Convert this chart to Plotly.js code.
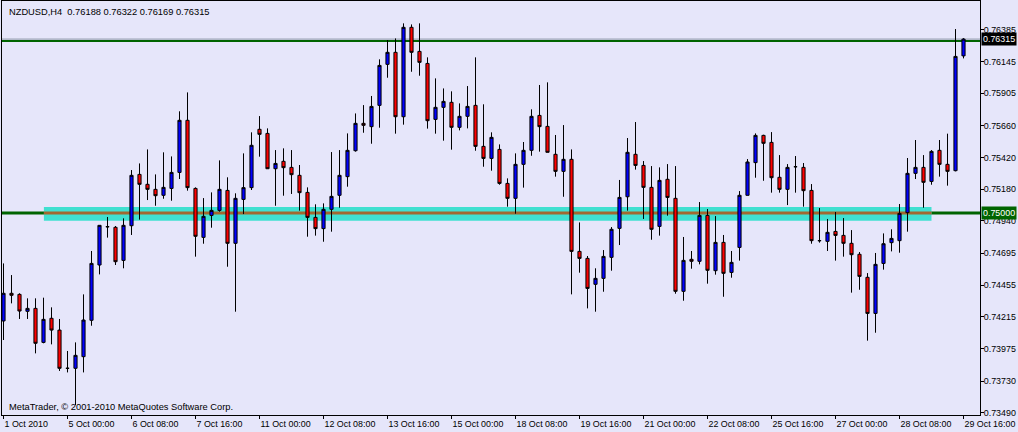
<!DOCTYPE html>
<html>
<head>
<meta charset="utf-8">
<script src="https://cdn.plot.ly/plotly-3.0.1.min.js"></script>
<style>
html,body{margin:0;padding:0;background:#E6E6FA;}
#chart{width:1018px;height:432px;}
</style>
</head>
<body>
<div id="chart"></div>
<script>
// NZDUSD H4 candles (1 Oct 2010 .. 29 Oct 16:00)
const barOpen = [0.74184,0.74393,0.74385,0.74257,0.74279,0.74022,0.74204,0.74115,0.73826,0.73826,
0.73914,0.74189,0.74607,0.74897,0.74892,0.74642,0.74904,0.75292,0.75217,0.75179,
0.75134,0.75186,0.75307,0.75701,0.75186,0.74816,0.74982,0.75020,0.75171,0.74771,
0.75103,0.75192,0.75633,0.75602,0.75335,0.75391,0.75345,0.75285,0.75156,0.74967,
0.74882,0.75028,0.75134,0.75275,0.75471,0.75678,0.75653,0.75814,0.76124,0.76215,
0.75728,0.76404,0.76222,0.76131,0.75708,0.75799,0.75837,0.75648,0.75731,0.75814,
0.75504,0.75413,0.75481,0.75224,0.75111,0.75368,0.75474,0.75738,0.75655,0.75444,
0.75315,0.75406,0.74710,0.74657,0.74461,0.74506,0.74665,0.74884,0.75123,0.75444,
0.75360,0.75194,0.74899,0.75255,0.75111,0.74408,0.74650,0.74635,0.74982,0.74564,
0.74778,0.74551,0.74740,0.75134,0.75381,0.75587,0.75534,0.75270,0.75179,0.75350,
0.75345,0.75171,0.74791,0.74786,0.74861,0.74831,0.74771,0.74688,0.74514,0.74241,
0.74619,0.74776,0.74791,0.75003,0.75300,0.75345,0.75239,0.75474,0.75368,0.75320,
0.76188];
const barHigh = [0.74619,0.74531,0.74393,0.74355,0.74355,0.74360,0.74287,0.74199,0.73957,0.74022,
0.74385,0.74713,0.74909,0.74970,0.74902,0.74960,0.75325,0.75375,0.75481,0.75292,
0.75459,0.75428,0.75769,0.75912,0.75194,0.75113,0.75156,0.75398,0.75270,0.75149,
0.75451,0.75610,0.75733,0.75640,0.75476,0.75489,0.75476,0.75363,0.75194,0.75066,
0.75073,0.75461,0.75476,0.75602,0.75753,0.75816,0.75885,0.76162,0.76308,0.76320,
0.76434,0.76426,0.76434,0.76177,0.76018,0.75942,0.75920,0.75829,0.75960,0.76177,
0.75822,0.75610,0.75519,0.75262,0.75451,0.75537,0.75784,0.75968,0.75988,0.75590,
0.75665,0.75481,0.74929,0.74675,0.74582,0.74720,0.74894,0.75250,0.75567,0.75688,
0.75393,0.75355,0.75345,0.75370,0.75355,0.74819,0.74713,0.75083,0.75030,0.74977,
0.74834,0.74713,0.75166,0.75408,0.75602,0.75592,0.75612,0.75438,0.75370,0.75431,
0.75378,0.75219,0.75038,0.74955,0.75008,0.74962,0.74871,0.74705,0.74546,0.74698,
0.74846,0.74877,0.75068,0.75416,0.75552,0.75438,0.75476,0.75552,0.75600,0.76391,
0.76322];
const barLow = [0.74040,0.74317,0.74199,0.74199,0.73939,0.74015,0.74007,0.73806,0.73795,0.73548,
0.73795,0.74148,0.74536,0.74814,0.74607,0.74582,0.74834,0.74950,0.75098,0.75055,
0.75108,0.75093,0.75257,0.75169,0.74670,0.74768,0.74889,0.75010,0.74594,0.74254,
0.74992,0.75174,0.75426,0.75333,0.75055,0.75131,0.75144,0.75018,0.74821,0.74829,
0.74783,0.74859,0.75040,0.75199,0.75464,0.75607,0.75524,0.75645,0.76023,0.75600,
0.75668,0.76068,0.76038,0.75638,0.75600,0.75547,0.75479,0.75625,0.75640,0.75471,
0.75350,0.75320,0.75214,0.75048,0.74995,0.75192,0.75433,0.75464,0.75459,0.75275,
0.75123,0.74385,0.74549,0.74279,0.74254,0.74405,0.74564,0.74758,0.75018,0.75328,
0.74955,0.74798,0.74829,0.74980,0.74390,0.74337,0.74579,0.74612,0.74466,0.74534,
0.74367,0.74511,0.74640,0.75134,0.75267,0.75244,0.75154,0.75154,0.75060,0.75154,
0.75048,0.74768,0.74776,0.74713,0.74640,0.74670,0.74398,0.74420,0.74035,0.74095,
0.74572,0.74710,0.74700,0.74859,0.75257,0.75040,0.75214,0.75275,0.75207,0.75315,
0.76169];
const barClose = [0.74393,0.74378,0.74259,0.74279,0.74015,0.74196,0.74115,0.73826,0.73826,0.73924,
0.74191,0.74619,0.74907,0.74896,0.74632,0.74907,0.75285,0.75217,0.75179,0.75131,
0.75194,0.75307,0.75701,0.75192,0.74824,0.74975,0.75020,0.75179,0.74771,0.75111,
0.75192,0.75512,0.75595,0.75335,0.75375,0.75343,0.75290,0.75154,0.74967,0.74882,
0.75028,0.75126,0.75285,0.75474,0.75678,0.75663,0.75806,0.76116,0.76215,0.75728,
0.76404,0.76215,0.76139,0.75698,0.75799,0.75844,0.75648,0.75731,0.75806,0.75504,
0.75413,0.75572,0.75224,0.75111,0.75368,0.75474,0.75731,0.75653,0.75459,0.75315,
0.75406,0.74710,0.74657,0.74430,0.74506,0.74672,0.74877,0.75118,0.75459,0.75360,
0.75194,0.74877,0.75247,0.75118,0.74408,0.74642,0.74635,0.74982,0.74567,0.74778,
0.74544,0.74627,0.75134,0.75386,0.75587,0.75527,0.75267,0.75179,0.75345,0.75350,
0.75169,0.74791,0.74791,0.74854,0.74831,0.74771,0.74685,0.74521,0.74241,0.74612,
0.74768,0.74808,0.74997,0.75300,0.75345,0.75232,0.75466,0.75368,0.75315,0.76184,
0.76315];

// time-axis labels and the bar index where each one sits
const timeTickBars = [0,8,16,24,32,40,48,56,64,72,80,88,96,104,112,120];
const timeTickLabels = ["1 Oct 2010","5 Oct 00:00","6 Oct 08:00","7 Oct 16:00","11 Oct 00:00",
"12 Oct 08:00","13 Oct 16:00","15 Oct 00:00","18 Oct 08:00","19 Oct 16:00","21 Oct 00:00",
"22 Oct 08:00","25 Oct 16:00","27 Oct 00:00","28 Oct 08:00","29 Oct 16:00"];

// price scale labels
const priceTicks = [0.76385,0.76145,0.75905,0.75660,0.75420,0.75180,0.74940,0.74695,0.74455,0.74215,0.73975,0.73730,0.73490];
const priceTickLabels = ["0.76385","0.76145","0.75905","0.75660","0.75420","0.75180","0.74940","0.74695","0.74455","0.74215","0.73975","0.73730","0.73490"];

// drawn objects
const bidPrice = 0.76315;
const resistanceLevel = 0.76300;
const supportLevel = 0.75000;
const zoneLow = 0.74942, zoneHigh = 0.75045;
const zoneStartBar = 5.05, zoneEndBar = 116;
const chartTitle = "NZDUSD,H4\u00a0\u00a00.76188 0.76322 0.76169 0.76315";
const copyright = "MetaTrader, \u00a9 2001-2010 MetaQuotes Software Corp.";

const barIndex = barOpen.map((_, i) => i);
const FAMILY = "Liberation Sans, Arial, sans-serif";
const FONT = {family: FAMILY, size: 9.3, color: "#000"};
const AXFONT = {family: FAMILY, size: 8.9, color: "#000"};

const trace = {
  type: "candlestick",
  x: barIndex,
  open: barOpen, high: barHigh, low: barLow, close: barClose,
  increasing: {line: {color: "#000000", width: 1}, fillcolor: "#0000FF"},
  decreasing: {line: {color: "#000000", width: 1}, fillcolor: "#FF0000"},
  whiskerwidth: 0,
  hoverinfo: "skip",
  showlegend: false
};

const layout = {
  width: 1018, height: 432,
  margin: {l: 2, r: 38, t: 1, b: 17, pad: 0},
  paper_bgcolor: "#E6E6FA",
  plot_bgcolor: "#E6E6FA",
  font: FONT,
  showlegend: false,
  boxgap: 0.44,
  xaxis: {
    type: "linear",
    range: [-0.1875, 122.0625],
    rangeslider: {visible: false},
    showgrid: false, zeroline: false,
    showline: true, linecolor: "#000", linewidth: 1, mirror: true,
    ticks: "outside", ticklen: 3, tickcolor: "#000", tickwidth: 1,
    tickmode: "array", tickvals: timeTickBars, ticktext: timeTickLabels,
    ticklabelposition: "outside right",
    tickfont: AXFONT,
    fixedrange: true
  },
  yaxis: {
    side: "right",
    range: [0.73473, 0.76603],
    showgrid: false, zeroline: false,
    showline: true, linecolor: "#000", linewidth: 1, mirror: true,
    ticks: "outside", ticklen: 3, tickcolor: "#000", tickwidth: 1,
    ticklabelstandoff: -2,
    tickmode: "array", tickvals: priceTicks, ticktext: priceTickLabels,
    tickfont: AXFONT,
    fixedrange: true
  },
  shapes: [
    {type: "line", xref: "paper", x0: 0, x1: 1, yref: "y", y0: bidPrice, y1: bidPrice,
     line: {color: "#8C96A8", width: 1}, layer: "below"},
    {type: "line", xref: "paper", x0: 0, x1: 1, yref: "y", y0: resistanceLevel, y1: resistanceLevel,
     line: {color: "#006400", width: 2}, layer: "below"},
    {type: "line", xref: "paper", x0: 0, x1: 1, yref: "y", y0: supportLevel, y1: supportLevel,
     line: {color: "#006400", width: 3}, layer: "below"},
    {type: "rect", xref: "x", x0: zoneStartBar, x1: zoneEndBar, yref: "y", y0: zoneLow, y1: zoneHigh,
     fillcolor: "#40E0D0", line: {width: 0}, layer: "below"},
    {type: "line", xref: "x", x0: zoneStartBar, x1: zoneEndBar, yref: "y", y0: supportLevel, y1: supportLevel,
     line: {color: "#A2682F", width: 3}, layer: "below"}
  ],
  annotations: [
    {xref: "paper", yref: "paper", x: 0, y: 1, xanchor: "left", yanchor: "top",
     xshift: 5, yshift: -4, text: chartTitle, showarrow: false, font: FONT},
    {xref: "paper", yref: "paper", x: 0, y: 0, xanchor: "left", yanchor: "bottom",
     xshift: 5, yshift: 1, text: copyright, showarrow: false, font: FONT},
    {xref: "paper", yref: "y", x: 1, y: bidPrice, xanchor: "left", yanchor: "middle",
     xshift: 1, text: "0.76315", showarrow: false, bgcolor: "#000000", borderpad: 1,
     font: {family: FAMILY, size: 8.9, color: "#FFFFFF"}},
    {xref: "paper", yref: "y", x: 1, y: supportLevel, xanchor: "left", yanchor: "middle",
     xshift: 1, text: "0.75000", showarrow: false, bgcolor: "#006400", borderpad: 1,
     font: {family: FAMILY, size: 8.9, color: "#FFFFFF"}}
  ]
};

Plotly.newPlot("chart", [trace], layout, {staticPlot: true, displayModeBar: false});
</script>
</body>
</html>
